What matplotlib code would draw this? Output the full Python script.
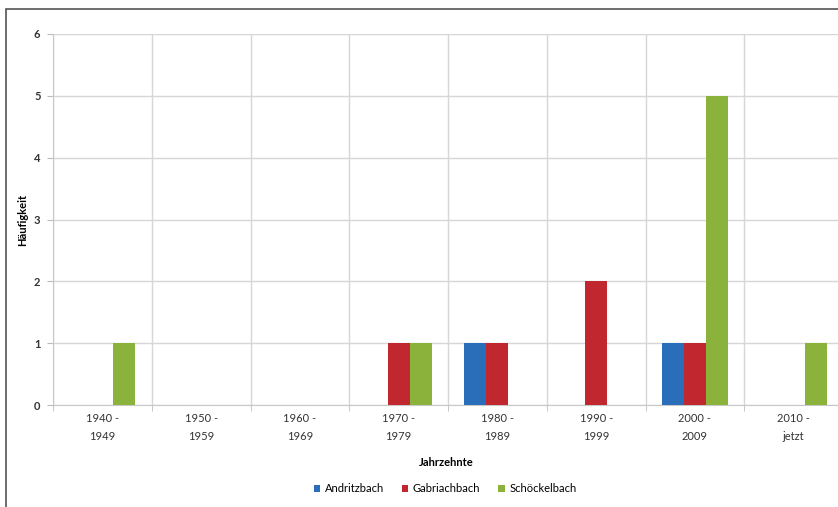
import matplotlib
matplotlib.use("Agg")
import matplotlib.pyplot as plt
import numpy as np
from matplotlib.patches import Rectangle

plt.rcParams['font.family'] = ['Lato', 'DejaVu Sans']

decades = ["1940 -\n1949", "1950 -\n1959", "1960 -\n1969", "1970 -\n1979",
           "1980 -\n1989", "1990 -\n1999", "2000 -\n2009", "2010 -\njetzt"]
andritzbach = [0, 0, 0, 0, 1, 0, 1, 0]
gabriachbach = [0, 0, 0, 1, 1, 2, 1, 0]
schoeckelbach = [1, 0, 0, 1, 0, 0, 5, 1]
series_names = ["Andritzbach", "Gabriachbach", "Schöckelbach"]
series_colors = ["#2a6db8", "#c0272f", "#8bb23a"]

fig = plt.figure(figsize=(8.38, 5.07), dpi=100)
fig.patch.set_facecolor("white")
fig.patches.append(Rectangle((6 / 838, -0.1), 1.2, (507 - 9) / 507 + 0.1,
                             transform=fig.transFigure, fill=False,
                             edgecolor="#555555", linewidth=1.2))

ax = fig.add_axes([53 / 838, 102 / 507, 790 / 838, 371 / 507])
x = np.arange(len(decades))
w = 0.223
for i, (vals, name, col) in enumerate(zip([andritzbach, gabriachbach, schoeckelbach],
                                          series_names, series_colors)):
    ax.bar(x + (i - 1) * w, vals, width=w, color=col, label=name, zorder=3)

ax.set_xlim(-0.5, len(decades) - 0.5)
ax.set_ylim(0, 6)
ax.set_yticks(range(0, 7))
ax.set_xticks(x)
ax.set_xticklabels(decades, fontsize=8, color="#333333", linespacing=1.7)
ax.set_xticks(np.arange(-0.5, len(decades), 1), minor=True)
ax.tick_params(axis="x", which="major", length=0, pad=6)
ax.tick_params(axis="x", which="minor", length=4, color="#bbbbbb", direction="out")
ax.tick_params(axis="y", length=4, color="#bbbbbb", labelsize=8, labelcolor="#333333", pad=5)
for lbl in ax.get_yticklabels():
    lbl.set_fontweight("bold")

ax.grid(True, axis="y", color="#d6d6d6", linewidth=1, zorder=0)
ax.grid(True, axis="x", which="minor", color="#d6d6d6", linewidth=1, zorder=0)
for s in ["top", "right"]:
    ax.spines[s].set_visible(False)
ax.spines["left"].set_color("#c8c8c8")
ax.spines["bottom"].set_color("#c8c8c8")

ax.set_ylabel("Häufigkeit", fontsize=8, fontweight="bold", labelpad=4)
fig.text(446 / 838, 1 - 462 / 507, "Jahrzehnte", fontsize=8, fontweight="bold",
         ha="center", va="center")

fig.legend(loc="center", bbox_to_anchor=(445 / 838, 1 - 489 / 507), ncol=3,
           frameon=False, fontsize=8, handlelength=0.6, handleheight=0.6,
           handletextpad=0.4, columnspacing=1.6)

fig.savefig("out.png", dpi=100, facecolor="white")
